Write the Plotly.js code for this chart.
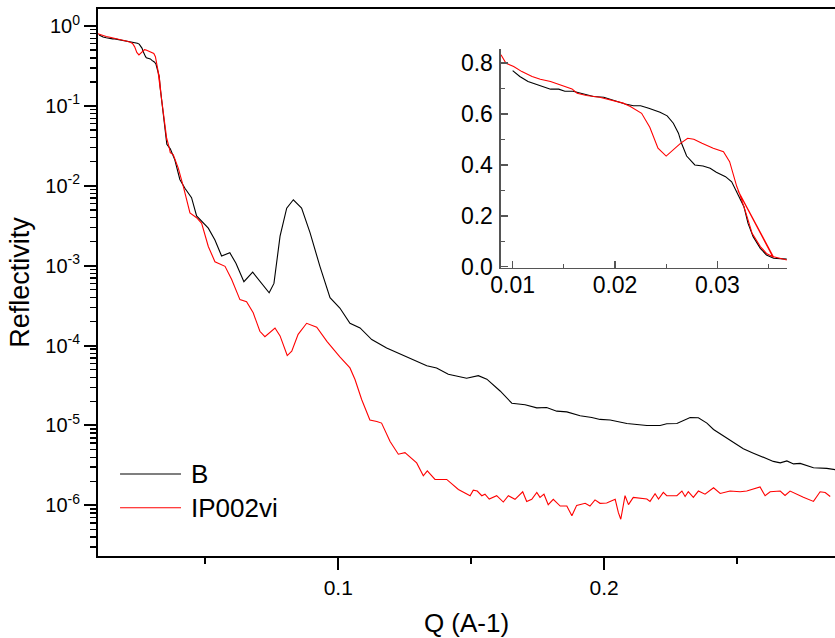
<!DOCTYPE html>
<html>
<head>
<meta charset="utf-8">
<script src="https://cdn.plot.ly/plotly-3.0.1.min.js"></script>
<style>html,body{margin:0;padding:0;background:#fff;}#chart{width:835px;height:638px;}</style>
</head>
<body>
<div id="chart"></div>
<script>
// Series B (black)
const qB = [0.0100,0.0107,0.0115,0.0127,0.0137,0.0145,0.0151,0.0159,0.0169,0.0179,0.0189,0.0200,0.0210,0.0218,0.0225,0.0233,0.0244,0.0251,0.0257,0.0262,0.0265,0.0270,0.0275,0.0278,0.0286,0.0293,0.0299,0.0308,0.0314,0.0319,0.0326,0.0330,0.0335,0.0342,0.0348,0.0355,0.0368,
0.0385,0.0404,0.0423,0.0448,0.0467,0.0511,0.0536,0.0561,0.0592,0.0615,0.0645,0.0678,0.0712,0.0740,0.0758,0.0781,0.0806,0.0831,0.0862,0.0894,0.0931,0.0969,0.1006,0.1044,0.1082,0.1126,0.1182,0.1232,0.1282,0.1333,0.1370,0.1414,0.1483,0.1527,0.1559,0.1609,0.1653,0.1703,0.1747,0.1784,0.1822,0.1860,0.1910,0.1954,0.1985,0.2023,0.2086,0.2136,0.2161,0.2211,0.2236,0.2274,0.2299,0.2324,0.2355,0.2387,0.2412,0.2449,0.2487,0.2524,0.2562,0.2600,0.2637,0.2663,0.2688,0.2713,0.2738,0.2788,0.2838,0.2870];
const rB = [0.771,0.748,0.728,0.711,0.698,0.698,0.690,0.690,0.679,0.669,0.666,0.652,0.640,0.633,0.633,0.623,0.607,0.593,0.564,0.525,0.485,0.435,0.413,0.400,0.396,0.387,0.371,0.354,0.334,0.295,0.236,0.170,0.118,0.072,0.046,0.033,0.029,
0.0211,0.0120,0.0093,0.0071,0.0042,0.00295,0.0021,0.00132,0.00145,0.00107,0.00063,0.00083,0.00060,0.000457,0.00060,0.00234,0.00525,0.00668,0.00525,0.00257,0.00098,0.000398,0.000295,0.00019,0.000166,0.000119,9.3e-5,7.9e-5,6.7e-5,5.6e-5,5.25e-5,4.37e-5,3.9e-5,4.2e-5,3.8e-5,2.7e-5,1.9e-5,1.82e-5,1.66e-5,1.68e-5,1.51e-5,1.48e-5,1.32e-5,1.26e-5,1.19e-5,1.17e-5,1.06e-5,1.02e-5,1.0e-5,1.0e-5,1.05e-5,1.06e-5,1.15e-5,1.26e-5,1.25e-5,1.07e-5,8.9e-6,7.4e-6,6.2e-6,5.1e-6,4.5e-6,4.0e-6,3.55e-6,3.4e-6,3.6e-6,3.3e-6,3.35e-6,2.95e-6,2.9e-6,2.8e-6];

// Series IP002vi (red)
const qR = [0.00886,0.00935,0.0101,0.0109,0.0119,0.0127,0.0137,0.0146,0.0158,0.0163,0.0172,0.0185,0.0198,0.0208,0.0215,0.0221,0.0226,0.0234,0.0242,0.0250,0.0257,0.0264,0.0271,0.0277,0.0285,0.0296,0.0306,0.0312,0.0319,0.0321,0.0327,0.0334,0.0342,0.0348,0.0355,0.0320,0.0354,0.0365,0.0368,
0.0379,0.0398,0.0417,0.0442,0.0467,0.0486,0.0511,0.0536,0.0574,0.0599,0.0630,0.0655,0.0680,0.0705,0.0724,0.0762,0.0781,0.0808,0.0825,0.0849,0.0881,0.0919,0.0958,0.1006,0.1044,0.1063,0.1088,0.1119,0.1145,0.1163,0.1195,0.1226,0.1251,0.1270,0.1295,0.1320,0.1335,0.1364,0.1408,0.1452,0.1489,0.1496,0.1508,0.1523,0.1540,0.1552,0.1568,0.1596,0.1621,0.1640,0.1665,0.1694,0.1709,0.1728,0.1747,0.1759,0.1774,0.1790,0.1809,0.1835,0.1860,0.1879,0.1897,0.1929,0.1947,0.1966,0.1985,0.2010,0.2042,0.2054,0.2063,0.2079,0.2092,0.2110,0.2161,0.2173,0.2192,0.2205,0.2223,0.2236,0.2274,0.2293,0.2305,0.2317,0.2336,0.2355,0.2380,0.2412,0.2437,0.2474,0.2512,0.2537,0.2587,0.2606,0.2625,0.2663,0.2681,0.2700,0.2750,0.2788,0.2813,0.2832,0.2851];
const rR = [0.833,0.800,0.787,0.767,0.748,0.737,0.728,0.715,0.699,0.682,0.673,0.666,0.652,0.643,0.630,0.616,0.603,0.548,0.466,0.435,0.459,0.485,0.505,0.501,0.485,0.466,0.452,0.413,0.315,0.295,0.223,0.131,0.079,0.052,0.037,0.300,0.040,0.029,0.026,
0.0245,0.0166,0.0098,0.00457,0.00398,0.00339,0.00174,0.00112,0.00098,0.00067,0.000376,0.000355,0.000257,0.000151,0.000129,0.000166,0.000132,7.5e-5,8.5e-5,0.000138,0.00019,0.00017,0.000112,7.2e-5,5.25e-5,3.76e-5,2.11e-5,1.17e-5,1.12e-5,1.07e-5,6.3e-6,4.37e-6,4.57e-6,4.0e-6,3.4e-6,2.34e-6,2.7e-6,2.11e-6,2.11e-6,1.58e-6,1.38e-6,1.32e-6,1.55e-6,1.51e-6,1.32e-6,1.38e-6,1.2e-6,1.32e-6,1.1e-6,1.32e-6,1.19e-6,1.48e-6,1.12e-6,1.19e-6,1.45e-6,1.26e-6,1.38e-6,1.02e-6,1.19e-6,9.8e-7,9.8e-7,7.4e-7,1.0e-6,1.06e-6,9.8e-7,1.17e-6,1.06e-6,1.07e-6,1.19e-6,8.1e-7,6.7e-7,1.32e-6,1.02e-6,1.26e-6,1.2e-6,1.12e-6,1.4e-6,1.2e-6,1.45e-6,1.32e-6,1.32e-6,1.51e-6,1.29e-6,1.48e-6,1.26e-6,1.51e-6,1.38e-6,1.66e-6,1.41e-6,1.51e-6,1.48e-6,1.51e-6,1.7e-6,1.32e-6,1.48e-6,1.51e-6,1.33e-6,1.51e-6,1.26e-6,1.12e-6,1.48e-6,1.45e-6,1.29e-6];

const seriesNames = ['B', 'IP002vi'];
const seriesColors = ['#000000', '#ff0000'];

// Tick labels
const yTickVals = [1e-6, 1e-5, 1e-4, 1e-3, 1e-2, 1e-1, 1];
const yTickText = ['10<sup>-6</sup>','10<sup>-5</sup>','10<sup>-4</sup>','10<sup>-3</sup>','10<sup>-2</sup>','10<sup>-1</sup>','10<sup>0</sup>'];
const xTickVals = [0.1, 0.2];
const xTickText = ['0.1', '0.2'];
const xMinorVals = [0.05, 0.15, 0.25];
const insetXTickVals = [0.01, 0.02, 0.03];
const insetXTickText = ['0.01', '0.02', '0.03'];
const insetXMinor = [0.015, 0.025, 0.035];
const insetYTickVals = [0, 0.2, 0.4, 0.6, 0.8];
const insetYTickText = ['0.0', '0.2', '0.4', '0.6', '0.8'];
const insetYMinor = [0.1, 0.3, 0.5, 0.7];

const yMinorVals = [];
for (let e = -7; e <= 0; e++) for (let m = 2; m <= 9; m++) yMinorVals.push(m * Math.pow(10, e));

const FONT = 'Liberation Sans, Arial, Helvetica, sans-serif';

const traces = [
  {x: qB, y: rB, mode: 'lines', line: {color: seriesColors[0], width: 1.1}, xaxis: 'x', yaxis: 'y', name: seriesNames[0], showlegend: false},
  {x: qR, y: rR, mode: 'lines', line: {color: seriesColors[1], width: 1.1}, xaxis: 'x', yaxis: 'y', name: seriesNames[1], showlegend: false},
  {x: qB, y: rB, mode: 'lines', line: {color: seriesColors[0], width: 1.1}, xaxis: 'x2', yaxis: 'y2', name: seriesNames[0], showlegend: false},
  {x: qR, y: rR, mode: 'lines', line: {color: seriesColors[1], width: 1.1}, xaxis: 'x2', yaxis: 'y2', name: seriesNames[1], showlegend: false}
];

const legY = [0.1499, 0.0883];
const legX0 = 0.0299, legX1 = 0.1126, legTextX = 0.1239;

const layout = {
  width: 835, height: 638,
  margin: {l: 98, r: 0, t: 9, b: 82, pad: 0},
  paper_bgcolor: '#ffffff', plot_bgcolor: 'rgba(0,0,0,0)',
  font: {family: FONT, color: '#000'},
  showlegend: false,
  xaxis: {
    domain: [0, 1], range: [0.0096, 0.2869], automargin: false,
    showline: true, linecolor: '#000', linewidth: 2, mirror: true,
    ticks: 'outside', ticklen: 12, tickwidth: 2, tickcolor: '#000',
    tickmode: 'array', tickvals: xTickVals, ticktext: xTickText,
    tickfont: {size: 21, family: FONT},
    minor: {tickmode: 'array', tickvals: xMinorVals, ticks: 'outside', ticklen: 6, tickwidth: 2, tickcolor: '#000', showgrid: false},
    showgrid: false, zeroline: false,
    title: {text: 'Q (A-1)', font: {size: 26, family: FONT}, standoff: 19}
  },
  yaxis: {
    domain: [0, 1], type: 'log', range: [-6.634, 0.2125], automargin: false,
    showline: true, linecolor: '#000', linewidth: 2,
    ticks: 'outside', ticklen: 12, tickwidth: 2, tickcolor: '#000',
    tickmode: 'array', tickvals: yTickVals, ticktext: yTickText,
    tickfont: {size: 20, family: FONT},
    minor: {tickmode: 'array', tickvals: yMinorVals, ticks: 'outside', ticklen: 6, tickwidth: 1.5, tickcolor: '#000', showgrid: false},
    showgrid: false, zeroline: false,
    title: {text: 'Reflectivity', font: {size: 27, family: FONT}, standoff: 8}
  },
  xaxis2: {
    domain: [0.5468, 0.9345], anchor: 'y2', range: [0.00886, 0.03678],
    showline: true, linecolor: '#555', linewidth: 1.5,
    ticks: 'inside', ticklen: 7, tickwidth: 1.5, tickcolor: '#555',
    tickmode: 'array', tickvals: insetXTickVals, ticktext: insetXTickText,
    tickfont: {size: 23, family: FONT}, ticklabelstandoff: -4,
    minor: {tickmode: 'array', tickvals: insetXMinor, ticks: 'inside', ticklen: 4, tickwidth: 1.2, tickcolor: '#555', showgrid: false},
    showgrid: false, zeroline: false
  },
  yaxis2: {
    domain: [0.5271, 0.9269], anchor: 'x2', range: [-0.004, 0.856],
    showline: true, linecolor: '#555', linewidth: 1.5,
    ticks: 'inside', ticklen: 7, tickwidth: 1.5, tickcolor: '#555',
    tickmode: 'array', tickvals: insetYTickVals, ticktext: insetYTickText,
    tickfont: {size: 23, family: FONT}, ticklabelstandoff: 2,
    minor: {tickmode: 'array', tickvals: insetYMinor, ticks: 'inside', ticklen: 4, tickwidth: 1.2, tickcolor: '#555', showgrid: false},
    showgrid: false, zeroline: false
  },
  shapes: [
    {type: 'line', xref: 'paper', yref: 'paper', x0: legX0, x1: legX1, y0: legY[0], y1: legY[0], line: {color: seriesColors[0], width: 1.1}},
    {type: 'line', xref: 'paper', yref: 'paper', x0: legX0, x1: legX1, y0: legY[1], y1: legY[1], line: {color: seriesColors[1], width: 1.1}}
  ],
  annotations: [
    {xref: 'paper', yref: 'paper', x: legTextX, y: legY[0], xanchor: 'left', yanchor: 'middle', text: seriesNames[0], showarrow: false, font: {size: 26, family: FONT, color: '#000'}},
    {xref: 'paper', yref: 'paper', x: legTextX, y: legY[1], xanchor: 'left', yanchor: 'middle', text: seriesNames[1], showarrow: false, font: {size: 26, family: FONT, color: '#000'}}
  ]
};

Plotly.newPlot('chart', traces, layout, {displayModeBar: false, staticPlot: true});
</script>
</body>
</html>
